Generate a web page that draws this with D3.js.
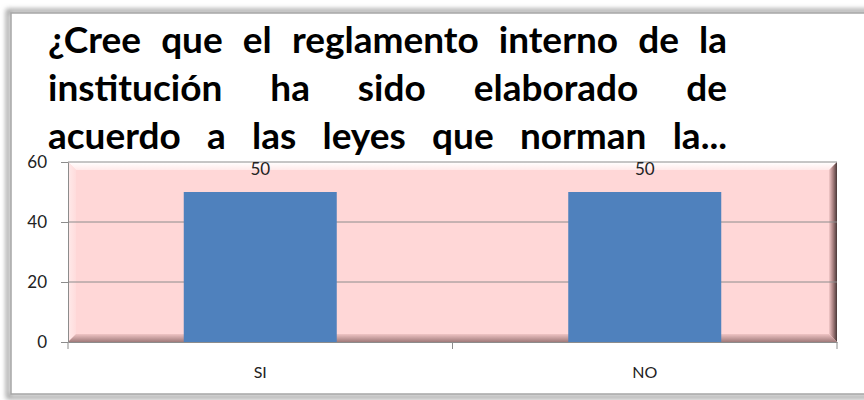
<!DOCTYPE html>
<html>
<head>
<meta charset="utf-8">
<script src="https://cdn.jsdelivr.net/npm/d3@7"></script>
<style>
  body { margin: 0; background: #fff; }
  svg { display: block; }
</style>
</head>
<body>
<svg id="chart" width="864" height="400"></svg>
<script>
const categories = ["SI", "NO"];
const values = [50, 50];
const yTicks = [0, 20, 40, 60];
const titleLines = [
    "¿Cree que el reglamento interno de la",
    "institución ha sido elaborado de",
    "acuerdo a las leyes que norman la..."
];

const svg = d3.select("#chart");
const defs = svg.append("defs");

// blurred shadow for the outer frame
const blur = defs.append("filter").attr("id", "soft").attr("x", "-5%").attr("y", "-5%").attr("width", "110%").attr("height", "110%");
blur.append("feGaussianBlur").attr("stdDeviation", 2.5);

// outer chart frame
svg.append("rect")
    .attr("x", 8).attr("y", 11).attr("width", 880).attr("height", 386)
    .attr("fill", "none").attr("stroke", "#9a9a9a").attr("stroke-width", 4)
    .attr("filter", "url(#soft)");
svg.append("rect")
    .attr("x", 11).attr("y", 13).attr("width", 870).attr("height", 381)
    .attr("fill", "#fff").attr("stroke", "#a6a6a6").attr("stroke-width", 1.5);

// title, justified between fixed edges
const titleLeft = 48, titleRight = 727;
const titleBase = [53, 101, 149];
const title = svg.append("g")
    .style("font-family", "Lato, 'Open Sans', sans-serif")
    .style("font-weight", "bold")
    .style("font-size", "37px")
    .attr("fill", "#000");

titleLines.forEach((line, i) => {
    const words = line.split(" ");
    const nodes = words.map(w => title.append("text").attr("y", titleBase[i]).text(w));
    let widths = nodes.map(n => n.node().getComputedTextLength());
    let total = d3.sum(widths);
    const avail = titleRight - titleLeft;
    const minGap = 9;
    if (total + minGap * (words.length - 1) > avail) {
        const scale = (avail - minGap * (words.length - 1)) / total;
        nodes.forEach(n => n.style("font-size", (37 * scale) + "px"));
        widths = widths.map(w => w * scale);
        total = d3.sum(widths);
    }
    const gap = (avail - total) / (words.length - 1);
    let x = titleLeft;
    nodes.forEach((n, j) => {
        n.attr("x", x);
        x += widths[j] + gap;
    });
});

// plot area
const plot = { left: 68, right: 837, top: 162, bottom: 342 };

const x = d3.scaleBand()
    .domain(categories)
    .range([plot.left, plot.right])
    .paddingInner(0)
    .paddingOuter(0);

const y = d3.scaleLinear()
    .domain([0, 60])
    .range([plot.bottom, plot.top]);

// pink bevelled background
svg.append("rect")
    .attr("x", plot.left).attr("y", plot.top)
    .attr("width", plot.right - plot.left).attr("height", plot.bottom - plot.top)
    .attr("fill", "#ffd7d7");

const gTop = defs.append("linearGradient").attr("id", "bTop").attr("x1", 0).attr("y1", 0).attr("x2", 0).attr("y2", 1);
gTop.append("stop").attr("offset", 0).attr("stop-color", "#ffffff");
gTop.append("stop").attr("offset", 1).attr("stop-color", "#ffe9e9");
const gLeft = defs.append("linearGradient").attr("id", "bLeft").attr("x1", 0).attr("y1", 0).attr("x2", 1).attr("y2", 0);
gLeft.append("stop").attr("offset", 0).attr("stop-color", "#ffeaea");
gLeft.append("stop").attr("offset", 1).attr("stop-color", "#ffdcdc");
const gRight = defs.append("linearGradient").attr("id", "bRight").attr("x1", 0).attr("y1", 0).attr("x2", 1).attr("y2", 0);
gRight.append("stop").attr("offset", 0).attr("stop-color", "#f3c9c9");
gRight.append("stop").attr("offset", 0.5).attr("stop-color", "#a88080");
gRight.append("stop").attr("offset", 1).attr("stop-color", "#4a3838");
const gBottom = defs.append("linearGradient").attr("id", "bBottom").attr("x1", 0).attr("y1", 0).attr("x2", 0).attr("y2", 1);
gBottom.append("stop").attr("offset", 0).attr("stop-color", "#f0c4c4");
gBottom.append("stop").attr("offset", 1).attr("stop-color", "#a07a7a");

const bv = 8;
const L = plot.left, R = plot.right, T = plot.top, B = plot.bottom;
svg.append("polygon").attr("points", [[L, T], [R, T], [R - bv, T + bv], [L + bv, T + bv]].join(" ")).attr("fill", "url(#bTop)");
svg.append("polygon").attr("points", [[L, T], [L + bv, T + bv], [L + bv, B - bv], [L, B]].join(" ")).attr("fill", "url(#bLeft)");
svg.append("polygon").attr("points", [[R, T], [R, B], [R - bv, B - bv], [R - bv, T + bv]].join(" ")).attr("fill", "url(#bRight)");
svg.append("polygon").attr("points", [[L, B], [R, B], [R - bv, B - bv], [L + bv, B - bv]].join(" ")).attr("fill", "url(#bBottom)");

// gridlines
svg.append("g")
    .selectAll("line")
    .data(yTicks.filter(t => t > 0))
    .join("line")
    .attr("x1", plot.left).attr("x2", plot.right)
    .attr("y1", d => y(d)).attr("y2", d => y(d))
    .attr("stroke", "#8c8c8c").attr("stroke-width", 1);

// bars
const barW = 153;
svg.append("g")
    .selectAll("rect")
    .data(categories)
    .join("rect")
    .attr("x", (d) => x(d) + x.bandwidth() / 2 - barW / 2)
    .attr("y", (d, i) => y(values[i]))
    .attr("width", barW)
    .attr("height", (d, i) => y(0) - y(values[i]))
    .attr("fill", "#4f81bd");

// value labels
svg.append("g")
    .selectAll("text")
    .data(categories)
    .join("text")
    .attr("x", d => x(d) + x.bandwidth() / 2)
    .attr("y", (d, i) => y(values[i]) - 17)
    .attr("text-anchor", "middle")
    .style("font-family", "Lato, 'Open Sans', sans-serif")
    .style("font-size", "17px")
    .attr("fill", "#222")
    .text((d, i) => values[i]);

// y axis
const yAxis = svg.append("g")
    .attr("transform", `translate(${plot.left},0)`)
    .call(d3.axisLeft(y).tickValues(yTicks).tickSize(7).tickSizeOuter(0));
yAxis.select(".domain").attr("stroke", "#8c8c8c");
yAxis.selectAll(".tick line").attr("stroke", "#8c8c8c");
yAxis.selectAll("text")
    .attr("x", -21)
    .style("font-family", "Lato, 'Open Sans', sans-serif")
    .style("font-size", "17px")
    .attr("fill", "#222");

// x axis
const xAxis = svg.append("g")
    .attr("transform", `translate(0,${plot.bottom})`)
    .call(d3.axisBottom(x).tickSize(0).tickSizeOuter(0));
xAxis.select(".domain").attr("stroke", "#8c8c8c");
xAxis.selectAll("text")
    .attr("dy", "2.05em")
    .style("font-family", "Lato, 'Open Sans', sans-serif")
    .style("font-size", "16px")
    .attr("fill", "#222");

// category separator ticks on the x axis
const bounds = [plot.left, plot.left + x.bandwidth(), plot.right];
svg.append("g")
    .selectAll("line")
    .data(bounds)
    .join("line")
    .attr("x1", d => d).attr("x2", d => d)
    .attr("y1", plot.bottom).attr("y2", plot.bottom + 7)
    .attr("stroke", "#8c8c8c");
</script>
</body>
</html>
